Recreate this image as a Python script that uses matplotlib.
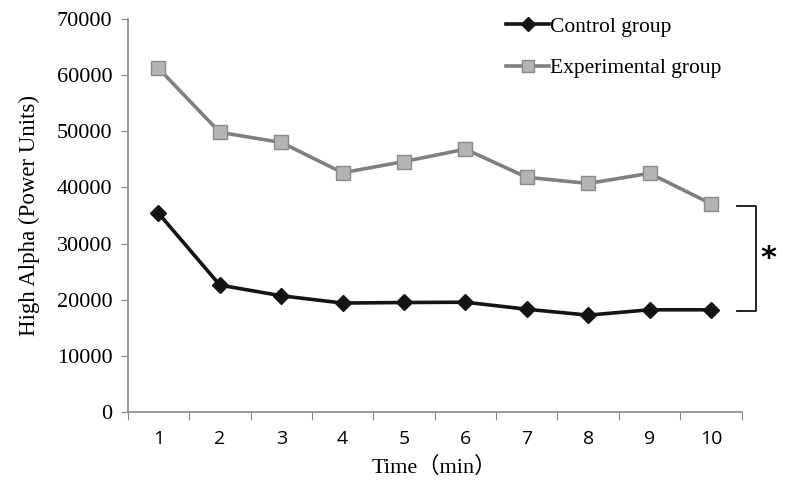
import matplotlib.pyplot as plt
import numpy as np

# Values
minutes = [1, 2, 3, 4, 5, 6, 7, 8, 9, 10]
control = [35400, 22600, 20700, 19400, 19500, 19550, 18300, 17250, 18200, 18200]
experimental = [61200, 49800, 48000, 42600, 44600, 46800, 41800, 40700, 42500, 37100]
y_ticks = [0, 10000, 20000, 30000, 40000, 50000, 60000, 70000]

serif = 'Liberation Serif'

fig = plt.figure(figsize=(7.87, 4.97), dpi=100)
ax = fig.add_axes([0.1623, 0.171, 0.7801, 0.791])

x = np.array(minutes)
ax.plot(x, control, color='#141414', lw=2.6, marker='D', ms=8,
        mfc='#141414', mec='#141414', label='Control group', zorder=3)
ax.plot(x, experimental, color='#7f7f7f', lw=2.6, marker='s', ms=10,
        mfc='#b4b4b4', mec='#8a8a8a', mew=1.0, label='Experimental group', zorder=3)

ax.set_xlim(0.5, 10.5)
ax.set_ylim(0, 70000)

# y axis
ax.set_yticks(y_ticks)
ax.set_yticklabels([str(v) for v in y_ticks], fontfamily=serif, fontsize=16)
ax.tick_params(axis='y', length=5, color='#888888', pad=6)

# x axis: tick marks between categories, labels centred
ax.set_xticks(np.arange(0.5, 11, 1.0))
ax.set_xticklabels([])
ax.set_xticks(x, minor=True)
ax.set_xticklabels([str(m) for m in minutes], minor=True,
                   fontfamily='Open Sans', fontsize=14)
ax.tick_params(axis='x', which='major', length=6, color='#888888')
ax.tick_params(axis='x', which='minor', length=0, pad=13)

for side in ['top', 'right']:
    ax.spines[side].set_visible(False)
for side in ['left', 'bottom']:
    ax.spines[side].set_color('#888888')
    ax.spines[side].set_linewidth(1.2)

ax.set_ylabel('High Alpha (Power Units)', fontfamily=serif, fontsize=16.5, labelpad=12)
ax.set_xlabel('Time（min）', fontfamily=[serif, 'Noto Sans CJK SC'], fontsize=16, labelpad=6)

leg = ax.legend(loc='upper left', bbox_to_anchor=(0.585, 1.055), frameon=False,
                prop={'family': serif, 'size': 15.5}, handlelength=2.0,
                handletextpad=0.05, labelspacing=1.0, markerscale=0.9)

# significance bracket between the two final values
bx0, bx1 = 10.42, 10.74
ax.plot([bx0, bx1, bx1, bx0], [36600, 36600, 18000, 18000], color='#111111',
        lw=1.3, clip_on=False)
ax.text(10.93, 27300, '*', fontsize=22, fontweight='bold', fontfamily='DejaVu Sans',
        ha='center', va='center', clip_on=False)

fig.savefig('out.png', dpi=100)
